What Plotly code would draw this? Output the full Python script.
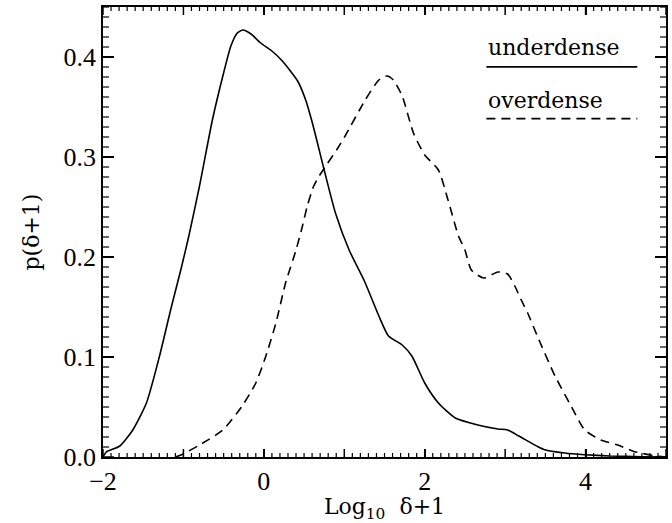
import plotly.graph_objects as go

# Underdense (solid) curve
x_under = [-2.00, -1.96, -1.79, -1.63, -1.46, -1.30, -1.15, -1.03, -0.93, -0.80, -0.64, -0.51,
           -0.41, -0.33, -0.26, -0.16, -0.04, 0.10, 0.23, 0.42, 0.52, 0.61, 0.75, 0.89, 1.06,
           1.25, 1.43, 1.55, 1.72, 1.84, 2.00, 2.17, 2.38, 2.66, 2.91, 3.03, 3.17, 3.40, 3.49,
           3.74, 3.99, 4.30, 4.70, 5.00]
y_under = [0.000, 0.005, 0.011, 0.027, 0.054, 0.100, 0.150, 0.188, 0.222, 0.271, 0.337, 0.381,
           0.411, 0.424, 0.427, 0.423, 0.414, 0.406, 0.396, 0.376, 0.357, 0.332, 0.287, 0.244, 0.207,
           0.176, 0.141, 0.121, 0.112, 0.101, 0.074, 0.054, 0.039, 0.032, 0.028, 0.027, 0.021, 0.0106, 0.0073,
           0.004, 0.0023, 0.001, 0.0003, 0.000]

# Overdense (dashed) curve
x_over = [-1.10, -1.03, -0.80, -0.51, -0.27, -0.10, 0.025, 0.15, 0.27, 0.40, 0.48, 0.54, 0.62,
          0.68, 0.77, 0.92, 1.01, 1.26, 1.43, 1.53, 1.61, 1.72, 1.86, 2.00, 2.17, 2.29, 2.42,
          2.50, 2.58, 2.73, 2.91, 3.03, 3.12, 3.20, 3.28, 3.40, 3.62, 3.82, 3.99, 4.19, 4.40,
          4.60, 4.85, 5.00]
y_over = [0.000, 0.002, 0.012, 0.027, 0.051, 0.074, 0.101, 0.134, 0.174, 0.207, 0.231, 0.251, 0.271,
          0.280, 0.291, 0.309, 0.321, 0.357, 0.377, 0.381, 0.377, 0.361, 0.324, 0.302, 0.287, 0.257, 0.221,
          0.207, 0.187, 0.179, 0.185, 0.183, 0.171, 0.157, 0.144, 0.121, 0.081, 0.051, 0.027, 0.017, 0.012,
          0.0056, 0.0013, 0.000]

x_labelvals = [-2, 0, 2, 4]
x_labeltext = ["\u22122", "0", "2", "4"]
y_labelvals = [0.0, 0.1, 0.2, 0.3, 0.4]
legend_names = ["underdense", "overdense"]

X_RANGE = [-2, 5]
Y_RANGE = [0, 0.45]

fig = go.Figure()
fig.add_trace(go.Scatter(x=x_under, y=y_under, mode="lines", name=legend_names[0],
                         line=dict(color="black", width=1.6, shape="spline", smoothing=0.6)))
fig.add_trace(go.Scatter(x=x_over, y=y_over, mode="lines", name=legend_names[1],
                         line=dict(color="black", width=1.6, dash="9px,6px", shape="spline", smoothing=0.6)))

tickfont = dict(family="Liberation Serif", size=26, color="black")
fig.update_layout(
    width=672, height=523,
    margin=dict(l=103, r=4, t=7, b=66),
    paper_bgcolor="white", plot_bgcolor="white",
    showlegend=False,
    xaxis=dict(range=X_RANGE, tickmode="array", tickvals=x_labelvals, ticktext=x_labeltext,
               ticks="inside", ticklen=8, tickwidth=1.5, tickcolor="black",
               showline=True, linecolor="black", linewidth=1.8, mirror="allticks",
               showgrid=False, zeroline=False, tickfont=tickfont,
               title=dict(text="Log<sub>10</sub>  \u03b4+1",
                          font=dict(family="DejaVu Serif", size=22, color="black"), standoff=6)),
    yaxis=dict(range=Y_RANGE, tickmode="array", tickvals=y_labelvals, tickformat=".1f",
               ticks="inside", ticklen=11, tickwidth=1.5, tickcolor="black",
               showline=True, linecolor="black", linewidth=1.8, mirror="allticks",
               showgrid=False, zeroline=False, tickfont=tickfont,
               title=dict(text="p(\u03b4+1)",
                          font=dict(family="DejaVu Serif", size=22, color="black"), standoff=18)),
)

# Additional tick marks (inside, all four sides) at axis values, pixel lengths
def add_xtick(v, length, width):
    for anchor, sign in ((0, 1), (1, -1)):
        fig.add_shape(type="line", xref="x", yref="paper", ysizemode="pixel", yanchor=anchor,
                      x0=v, x1=v, y0=0, y1=sign * length, line=dict(color="black", width=width))

def add_ytick(v, length, width):
    for anchor, sign in ((0, 1), (1, -1)):
        fig.add_shape(type="line", yref="y", xref="paper", xsizemode="pixel", xanchor=anchor,
                      y0=v, y1=v, x0=0, x1=sign * length, line=dict(color="black", width=width))

for i in range(-20, 51):
    v = i / 10
    add_xtick(v, 8 if i % 10 == 0 else 4, 1.5 if i % 10 == 0 else 1.2)

for i in range(0, 46):
    v = i / 100
    add_ytick(v, 11 if i % 10 == 0 else 6, 1.5 if i % 10 == 0 else 1.2)

# Legend drawn as annotations + line samples
leg_font = dict(family="DejaVu Serif", size=22, color="black")
fig.add_annotation(xref="paper", yref="paper", x=0.681, y=0.878, xanchor="left", yanchor="bottom",
                   text=legend_names[0], showarrow=False, font=leg_font)
fig.add_annotation(xref="paper", yref="paper", x=0.681, y=0.760, xanchor="left", yanchor="bottom",
                   text=legend_names[1], showarrow=False, font=leg_font)
fig.add_shape(type="line", xref="paper", yref="paper", x0=0.681, x1=0.949, y0=0.867, y1=0.867,
              line=dict(color="black", width=1.6))
fig.add_shape(type="line", xref="paper", yref="paper", x0=0.681, x1=0.949, y0=0.752, y1=0.752,
              line=dict(color="black", width=1.6, dash="9px,6px"))

fig.write_html("out.html", post_script="document.body.style.margin='0';",
               config={"displayModeBar": False})
